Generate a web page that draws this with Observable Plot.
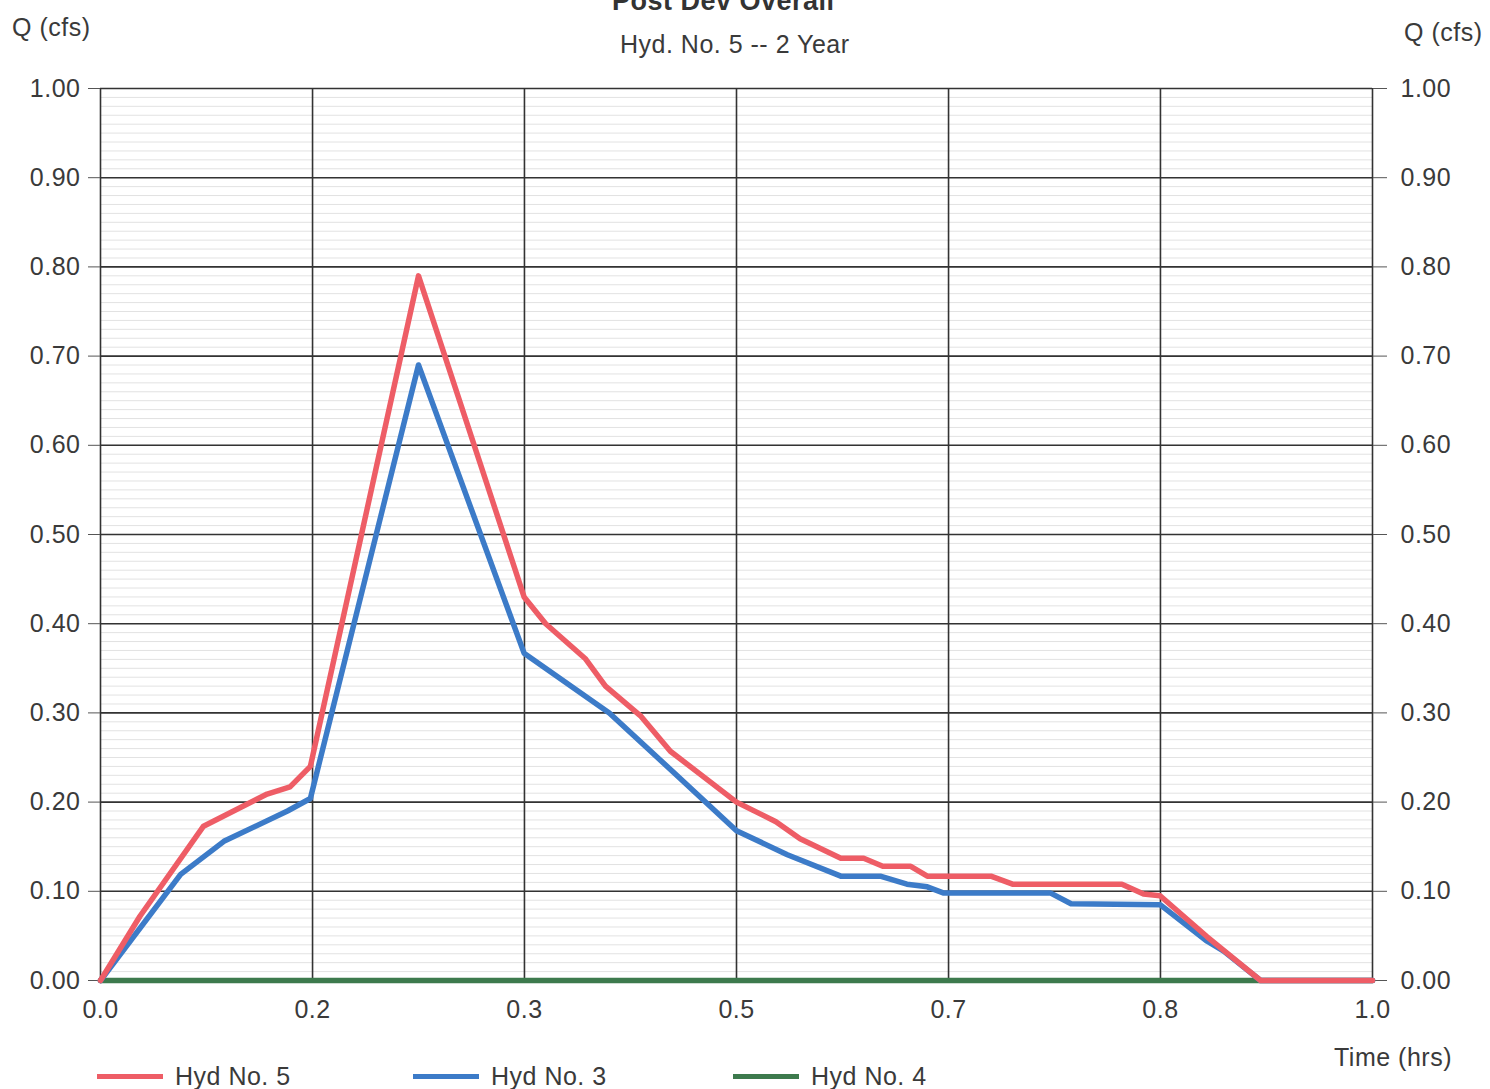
<!DOCTYPE html>
<html>
<head>
<meta charset="utf-8">
<script src="https://cdn.jsdelivr.net/npm/d3@7"></script>
<script src="https://cdn.jsdelivr.net/npm/@observablehq/plot@0.6"></script>
<style>
  html, body { margin: 0; padding: 0; background: #fff; }
  #wrap { position: relative; width: 1490px; height: 1089px; overflow: hidden; font-family: "Liberation Sans", Arial, sans-serif; color: #3a3a3a; }
  .t { position: absolute; white-space: nowrap; font-size: 25px; letter-spacing: 0.5px; line-height: 1; }
  .leg { position: absolute; height: 5px; }
</style>
</head>
<body>
<div id="wrap"></div>
<script>
// ---- data ----
const title = "Post Dev Overall";
const subtitle = "Hyd. No. 5 -- 2 Year";
const yLabel = "Q (cfs)";
const xLabel = "Time (hrs)";

const xTickValues = [0, 0.1667, 0.3333, 0.5, 0.6667, 0.8333, 1.0];
const xTickLabels = ["0.0", "0.2", "0.3", "0.5", "0.7", "0.8", "1.0"];
const yTickValues = [0, 0.1, 0.2, 0.3, 0.4, 0.5, 0.6, 0.7, 0.8, 0.9, 1.0];

const seriesNames = ["Hyd No. 5", "Hyd No. 3", "Hyd No. 4"];
const seriesColors = ["#ee5d66", "#3c7bc8", "#3d7a4d"];

// Hyd No. 5 (red)
const hyd5Time = [0, 0.031, 0.081, 0.131, 0.149, 0.165, 0.25, 0.333, 0.35, 0.381, 0.397, 0.425, 0.448, 0.5, 0.531, 0.55, 0.582, 0.6, 0.615, 0.637, 0.65, 0.7, 0.717, 0.803, 0.82, 0.833, 0.87, 0.912, 1.0];
const hyd5Q    = [0, 0.072, 0.173, 0.209, 0.217, 0.240, 0.790, 0.430, 0.400, 0.361, 0.330, 0.296, 0.257, 0.200, 0.178, 0.159, 0.137, 0.137, 0.128, 0.128, 0.117, 0.117, 0.108, 0.108, 0.097, 0.095, 0.049, 0, 0];

// Hyd No. 3 (blue)
const hyd3Time = [0, 0.063, 0.097, 0.147, 0.165, 0.25, 0.333, 0.4, 0.45, 0.5, 0.54, 0.582, 0.613, 0.634, 0.65, 0.663, 0.747, 0.763, 0.833, 0.87, 0.883, 0.912, 1.0];
const hyd3Q    = [0, 0.119, 0.156, 0.190, 0.204, 0.690, 0.367, 0.300, 0.234, 0.168, 0.141, 0.117, 0.117, 0.108, 0.105, 0.098, 0.098, 0.086, 0.085, 0.044, 0.033, 0, 0];

// Hyd No. 4 (green)
const hyd4Time = [0, 1.0];
const hyd4Q    = [0, 0];

// ---- build ----
const toRows = (ts, qs) => ts.map((t, i) => ({t, q: qs[i]}));
const red = toRows(hyd5Time, hyd5Q);
const blue = toRows(hyd3Time, hyd3Q);
const green = toRows(hyd4Time, hyd4Q);
const minorY = d3.range(0, 101).map(i => i / 100);

const W = 1490, H = 1089;
const chart = Plot.plot({
  width: W, height: H,
  marginLeft: 100, marginRight: 118, marginTop: 88, marginBottom: 109,
  x: {domain: [0, 1]},
  y: {domain: [0, 1]},
  style: {fontFamily: "Liberation Sans, Arial, sans-serif", fontSize: "25px", color: "#3a3a3a", background: "transparent", letterSpacing: "0.5px"},
  marks: [
    Plot.ruleY(minorY, {stroke: "#e2e2e2", strokeWidth: 1}),
    Plot.ruleY(yTickValues, {stroke: "#333", strokeWidth: 1.6}),
    Plot.ruleX(xTickValues, {stroke: "#333", strokeWidth: 1.6}),
    Plot.axisY({anchor: "left", ticks: yTickValues, tickFormat: d3.format(".2f"), tickSize: 12, tickPadding: 8, label: null, stroke: "#555"}),
    Plot.axisY({anchor: "right", ticks: yTickValues, tickFormat: d3.format(".2f"), tickSize: 14, tickPadding: 14, label: null, stroke: "#555"}),
    Plot.axisX({ticks: xTickValues, tickFormat: (d, i) => xTickLabels[i], tickSize: 0, tickPadding: 20, label: null}),
    Plot.line(green, {x: "t", y: "q", stroke: seriesColors[2], strokeWidth: 5.5}),
    Plot.line(blue, {x: "t", y: "q", stroke: seriesColors[1], strokeWidth: 5.5}),
    Plot.line(red, {x: "t", y: "q", stroke: seriesColors[0], strokeWidth: 5.5})
  ]
});

const wrap = document.getElementById("wrap");
chart.style.position = "absolute";
chart.style.left = "0px";
chart.style.top = "0px";
wrap.appendChild(chart);

function addText(txt, left, top, extra) {
  const d = document.createElement("div");
  d.className = "t";
  d.textContent = txt;
  d.style.left = left + "px";
  d.style.top = top + "px";
  if (extra) Object.assign(d.style, extra);
  wrap.appendChild(d);
  return d;
}
addText(title, 612, -12, {fontWeight: "bold", fontSize: "27px", color: "#333"});
addText(subtitle, 620, 32);
addText(yLabel, 12, 15);
addText(yLabel, 1404, 20);
addText(xLabel, 1334, 1045);

const legX = [97, 413, 733];
seriesNames.forEach((name, i) => {
  const l = document.createElement("div");
  l.className = "leg";
  l.style.left = legX[i] + "px";
  l.style.top = "1074px";
  l.style.width = "66px";
  l.style.background = seriesColors[i];
  wrap.appendChild(l);
  addText(name, legX[i] + 78, 1064);
});
</script>
</body>
</html>
